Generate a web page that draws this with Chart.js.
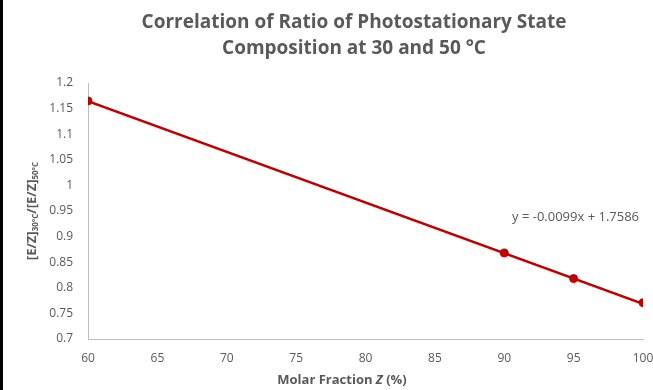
<!DOCTYPE html>
<html>
<head>
<meta charset="utf-8">
<script src="https://cdn.jsdelivr.net/npm/chart.js@4/dist/chart.umd.min.js"></script>
<style>
  html, body { margin: 0; padding: 0; background: #fff; overflow: hidden; }
  #wrap { position: relative; width: 668px; height: 390px; }
  #edge { position: absolute; left: 0; top: 0; width: 3px; height: 390px; background: #000; }
</style>
</head>
<body>
<div id="wrap">
  <canvas id="chart" width="668" height="390"></canvas>
  <div id="edge"></div>
</div>
<script>
// data
var molarFraction = [60, 90, 95, 100];
var ratio = [1.165, 0.868, 0.818, 0.771];
var trendX = [60, 100];
var trendY = [1.1646, 0.7686];
var xTicks = [60, 65, 70, 75, 80, 85, 90, 95, 100];
var yTicks = [0.7, 0.75, 0.8, 0.85, 0.9, 0.95, 1, 1.05, 1.1, 1.15, 1.2];
var titleLines = ['Correlation of Ratio of Photostationary State', 'Composition at 30 and 50 \u00b0C'];
var equation = 'y = -0.0099x + 1.7586';

var gray = '#595959';
var red = '#C00000';
var font = '"Open Sans", sans-serif';

// titles, trendline label and y title with subscripts
var textPlugin = {
  id: 'texts',
  afterDraw: function(chart) {
    var c = chart.ctx;
    c.save();
    c.fillStyle = gray;
    c.textAlign = 'center';
    c.textBaseline = 'middle';
    c.font = 'bold 19px ' + font;
    c.fillText(titleLines[0], 354, 23);
    c.fillText(titleLines[1], 354, 49);

    // x title, Z in italics
    var a = 'Molar Fraction ', b = 'Z', d = ' (%)';
    c.font = 'bold 13px ' + font;
    var wa = c.measureText(a).width, wd = c.measureText(d).width;
    c.font = 'italic bold 13px ' + font;
    var wb = c.measureText(b).width;
    var x0 = 342 - (wa + wb + wd) / 2;
    c.textAlign = 'left';
    c.font = 'bold 13px ' + font;
    c.fillText(a, x0, 380);
    c.font = 'italic bold 13px ' + font;
    c.fillText(b, x0 + wa, 380);
    c.font = 'bold 13px ' + font;
    c.fillText(d, x0 + wa + wb, 380);

    // equation
    c.font = '13px ' + font;
    c.textAlign = 'left';
    c.fillText(equation, 512, 217);

    // y title
    var parts = [['[E/Z]', 0], ['30\u00b0C', 1], ['/[E/Z]', 0], ['50\u00b0C', 1]];
    var widths = parts.map(function(p) {
      c.font = (p[1] ? 'bold 8px ' : 'bold 13px ') + font;
      return c.measureText(p[0]).width;
    });
    var total = widths.reduce(function(s, w) { return s + w; }, 0);
    c.translate(32, 211);
    c.rotate(-Math.PI / 2);
    var x = -total / 2;
    parts.forEach(function(p, i) {
      c.font = (p[1] ? 'bold 8px ' : 'bold 13px ') + font;
      c.fillText(p[0], x, p[1] ? 4 : 0);
      x += widths[i];
    });
    c.restore();
  }
};

new Chart(document.getElementById('chart'), {
  type: 'scatter',
  data: {
    datasets: [{
      label: 'trend',
      data: trendX.map(function(x, i) { return { x: x, y: trendY[i] }; }),
      showLine: true,
      borderColor: red,
      borderWidth: 2.5,
      pointRadius: 0,
      order: 2
    }, {
      label: 'ratio',
      data: molarFraction.map(function(x, i) { return { x: x, y: ratio[i] }; }),
      showLine: false,
      backgroundColor: red,
      borderColor: red,
      pointRadius: 4,
      order: 1
    }]
  },
  options: {
    responsive: false,
    animation: false,
    layout: { padding: { top: 83, right: 25, left: 0, bottom: 0 } },
    plugins: { legend: { display: false }, tooltip: { enabled: false } },
    scales: {
      x: {
        type: 'linear', min: 60, max: 100,
        afterBuildTicks: function(s) { s.ticks = xTicks.map(function(v) { return { value: v }; }); },
        afterFit: function(s) { s.height = 390 - 339; },
        grid: { display: false, drawTicks: false },
        border: { color: '#BFBFBF', width: 1 },
        ticks: { color: gray, font: { family: font, size: 12 }, padding: 12, maxRotation: 0 }
      },
      y: {
        type: 'linear', min: 0.7, max: 1.2,
        afterBuildTicks: function(s) { s.ticks = yTicks.map(function(v) { return { value: v }; }); },
        afterFit: function(s) { s.width = 88; },
        grid: { display: false, drawTicks: false },
        border: { color: '#BFBFBF', width: 1 },
        ticks: { color: gray, font: { family: font, size: 12 }, padding: 15,
          callback: function(v) { return String(Math.round(v * 100) / 100); } }
      }
    }
  },
  plugins: [textPlugin]
});
</script>
</body>
</html>
